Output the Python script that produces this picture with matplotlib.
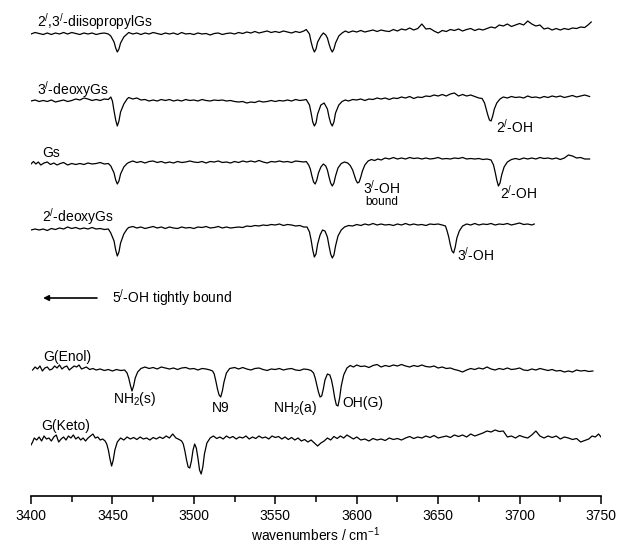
import matplotlib
matplotlib.use("Agg")
import matplotlib.pyplot as plt
from matplotlib.ticker import MultipleLocator

plt.rcParams['font.family'] = ['Liberation Sans', 'DejaVu Sans']
plt.rcParams['mathtext.fontset'] = 'custom'
plt.rcParams['mathtext.rm'] = 'Liberation Sans'
plt.rcParams['mathtext.it'] = 'Liberation Sans'
plt.rcParams['mathtext.default'] = 'regular'

# ---------- data: (wavenumber, signal relative to the trace baseline) ----------
diiso = [(3400,0),(3402.5,1.5),(3405,0.5),(3407.5,-0.5),(3410,1),(3412.5,-0.5),(3415,1),(3417.5,0),
 (3420,1.5),(3422.5,0),(3425,1.5),(3427.5,0.5),(3430,-0.5),(3432.5,1),(3435,0),(3437.5,1),(3440,-0.5),
 (3442.5,0.5),(3445,1),(3447.5,0),
 (3449,-2),(3451,-8),(3452,-14),(3453,-18),(3454,-15),(3455,-9),(3457,-3),(3459,0),
 (3460,1.5),(3462.5,0),(3465,1),(3467.5,-0.5),(3470,1),(3472.5,0),(3475,1.5),(3477.5,0.5),(3480,-0.5),
 (3482.5,1),(3485,0),(3487.5,1),(3490,-0.5),(3492.5,1.5),(3495,0),(3497.5,0.5),(3500,-0.5),(3502.5,1),
 (3505,0),(3507.5,0.5),(3510,-1),(3512.5,0.5),(3515,1),(3517.5,-0.5),(3520,0.5),(3522.5,1),(3525,0),
 (3527.5,1.5),(3530,0.5),(3532.5,2),(3535,1),(3537.5,2.5),(3540,1),(3542.5,2),(3545,3),(3547.5,1.5),
 (3550,2.5),(3552.5,1.5),(3555,3),(3557.5,2),(3560,1),(3562.5,2.5),(3565,1.5),(3567.5,3),(3569,4.5),
 (3571,0),(3572,-8),(3573,-14),(3574,-18),(3575,-15),(3576,-8),(3578,-2),(3579.5,1),(3581,-1),
 (3582,-4),(3583,-10),(3584,-15),(3585,-18),(3586,-15),(3587,-9),(3589,-2),
 (3591,1),(3593,3),(3595,1.5),(3597.5,3),(3600,2),(3602.5,3.5),(3605,2),(3607.5,3),(3610,4),(3612.5,2.5),
 (3615,4),(3617.5,3),(3620,2.5),(3622.5,4.5),(3625,3),(3627.5,5),(3630,4),(3632.5,6),(3635,4),(3637.5,5.5),
 (3640,10),(3642.5,5),(3645,5.5),(3647.5,3),(3650,1),(3652.5,3.5),(3655,2.5),(3657.5,4.5),(3660,3.5),
 (3662.5,5),(3665,3),(3667.5,4.5),(3670,5.5),(3672.5,3.5),(3675,5),(3677.5,4),(3680,5.5),(3682.5,7),
 (3685,6),(3687.5,9),(3690,8),(3692.5,10),(3695,7.5),(3697.5,9),(3700,10.5),(3702.5,9),(3705,13),
 (3707.5,10),(3710,8),(3712.5,9),(3715,5),(3717.5,6),(3720,4),(3722.5,5.5),(3725,4),(3727.5,5.5),
 (3730,4.5),(3732.5,6),(3735,5.5),(3737.5,7),(3740,6.5),(3742,9),(3744,12)]

deoxy3 = [(3400,0),(3402.5,1),(3405,-0.5),(3407.5,0.5),(3410,-0.5),(3412.5,1),(3415,-1),(3417.5,0),
 (3420,1),(3422.5,-0.5),(3425,0.5),(3427.5,2),(3430,1),(3432.5,3),(3435,2),(3437.5,0.5),(3440,1.5),
 (3442.5,0.5),(3445,2),(3447.5,1.5),(3449,4),
 (3450,0),(3451,-10),(3452,-19),(3453,-25),(3454,-20),(3455,-11),(3457,-3),(3459,2),
 (3460,3.5),(3462.5,2),(3465,3),(3467.5,1),(3470,1.5),(3472.5,0),(3475,1),(3477.5,0),(3480,1.5),
 (3482.5,0.5),(3485,1.5),(3487.5,0),(3490,1),(3492.5,0),(3495,1.5),(3497.5,0.5),(3500,1),(3502.5,0),
 (3505,1.5),(3507.5,0.5),(3510,0),(3512.5,1),(3515,0.5),(3517.5,1),(3520,0),(3522.5,0.5),(3525,-0.5),
 (3527.5,-1),(3530,-0.5),(3532.5,-2),(3535,-1),(3537.5,-1.5),(3540,0),(3542.5,-1),(3545,-0.5),
 (3547.5,0.5),(3550,-0.5),(3552.5,0.5),(3555,0),(3557.5,1),(3560,0),(3562.5,1.5),(3565,0.5),
 (3567.5,1),(3569,1.5),
 (3571,-4),(3572,-12),(3573,-21),(3574,-25),(3575,-22),(3576,-13),(3578,-4),(3580,-2),(3582,-8),
 (3583,-16),(3584,-22),(3585,-25),(3586,-21),(3587,-12),(3589,-4),
 (3591,-0.5),(3593,1),(3595,0),(3597.5,1.5),(3600,1),(3602.5,2),(3605,0.5),(3607.5,2),(3610,1.5),
 (3612.5,3),(3615,2),(3617.5,3),(3620,1.5),(3622.5,3),(3625,2.5),(3627.5,4),(3630,3),(3632.5,4.5),
 (3635,2.5),(3637.5,4),(3640,3.5),(3642.5,5),(3645,4.5),(3647.5,6),(3650,5),(3652.5,6.5),(3655,5),
 (3657.5,7),(3660,8),(3662.5,5),(3665,6.5),(3667.5,5),(3670,6),(3672.5,4.5),(3675,3),(3677,2.5),
 (3678.5,-2),(3679.5,-8),(3680.5,-14),(3681.5,-19),(3682.5,-20),(3683.5,-15),(3684.5,-8),(3686,-2),
 (3688,2),(3690,4),(3692.5,3),(3695,4.5),(3697.5,3.5),(3700,4),(3702.5,3),(3705,5),(3707.5,3.5),
 (3710,4),(3712.5,3),(3715,4.5),(3717.5,3.5),(3720,5),(3722.5,4),(3725,5),(3727.5,3.5),(3730,4.5),
 (3732.5,5.5),(3735,4),(3737.5,5),(3740,6),(3743,4.5)]

gs = [(3400,0),(3401.5,2.5),(3403,0),(3404.5,2),(3406,-1),(3408,1),(3410,2),(3412,-0.5),(3414,1),
 (3416,-1),(3418,0.5),(3420,1.5),(3422.5,-1),(3425,0.5),(3427.5,-0.5),(3430,0.5),(3432.5,-0.5),
 (3435,1),(3437.5,0),(3440,0.5),(3442.5,1.5),(3445,0),(3447.5,0.5),
 (3449,-2),(3451,-9),(3452,-16),(3453,-20),(3454,-17),(3455,-10),(3457,-3),(3459,0.5),
 (3460,1.5),(3462.5,3),(3465,1.5),(3467.5,2.5),(3470,1),(3472.5,2.5),(3475,3),(3477.5,1.5),(3480,2.5),
 (3482.5,1),(3485,2),(3487.5,1),(3490,2.5),(3492.5,1.5),(3495,2),(3497.5,3),(3500,2),(3502.5,1.5),
 (3505,2.5),(3507.5,1),(3510,2.5),(3512.5,2),(3515,3),(3517.5,1.5),(3520,2),(3522.5,1),(3525,2.5),
 (3527.5,1.5),(3530,3),(3532.5,2),(3535,3),(3537.5,2),(3540,3.5),(3542.5,2),(3545,1),(3547.5,2.5),
 (3550,2),(3552.5,3),(3555,2),(3557.5,2.5),(3560,1.5),(3562.5,3),(3565,2.5),(3567.5,2),(3569,2.5),
 (3570.5,-1),(3571.5,-5),(3572.5,-12),(3573.5,-18),(3574.5,-20),(3575.5,-16),(3576.5,-9),(3578,-3),
 (3579.5,0),(3581,-2),(3582,-6),(3583,-13),(3584,-19),(3585,-22),(3586,-19),(3587,-12),(3588.5,-4),
 (3590.5,0.5),(3592.5,2),(3594.5,1),(3596,-1.5),(3597.5,-6),(3598.5,-11),(3599.5,-16),(3600.5,-19),
 (3601.5,-18),(3602.5,-13),(3603.5,-7),(3605,-1),(3607,3),
 (3609,4.5),(3611,3.5),(3613,5),(3615,4),(3617.5,6),(3620,5),(3622.5,6.5),(3625,5),(3627.5,6),
 (3630,5),(3632.5,6.5),(3635,5.5),(3637.5,6),(3640,5),(3642.5,6),(3645,5),(3647.5,5.5),(3650,6.5),
 (3652.5,5),(3655,5.5),(3657.5,5),(3660,6),(3662.5,5.5),(3665,6.5),(3667.5,5),(3670,5.5),(3672.5,5),
 (3675,5.5),(3677.5,4.5),(3680,5),(3682.5,4),
 (3684,-1),(3685,-8),(3686,-16),(3687,-22),(3688,-19),(3689,-11),(3690.5,-3),(3692.5,2),
 (3695,4.5),(3697.5,5.5),(3700,4.5),(3702.5,6),(3705,5),(3707.5,6),(3710,5),(3712.5,6.5),(3715,5.5),
 (3717.5,6),(3720,5),(3722.5,6),(3725,4.5),(3727.5,6),(3730,9),(3732.5,8),(3735,6),(3737.5,6.5),
 (3740,5),(3743,5)]

deoxy2 = [(3400,0),(3402.5,1),(3405,0),(3407.5,1),(3410,-0.5),(3412.5,1.5),(3415,0.5),(3417.5,2),
 (3420,1),(3422.5,3),(3425,1.5),(3427.5,2.5),(3430,1),(3432.5,2),(3435,1),(3437.5,2.5),(3440,1),
 (3442.5,1.5),(3445,0.5),(3447.5,1),
 (3449,-3),(3451,-11),(3452,-20),(3453,-26),(3454,-22),(3455,-13),(3457,-4),(3459,1),
 (3460,2.5),(3462.5,3.5),(3465,2),(3467.5,3),(3470,1.5),(3472.5,2.5),(3475,3.5),(3477.5,2),(3480,3),
 (3482.5,1.5),(3485,3),(3487.5,2),(3490,1.5),(3492.5,3),(3495,2),(3497.5,2.5),(3500,1.5),(3502.5,3),
 (3505,2.5),(3507.5,3.5),(3510,2),(3512.5,2.5),(3515,3.5),(3517.5,2),(3520,3),(3522.5,2),(3525,2.5),
 (3527.5,3),(3530,2.5),(3532.5,4),(3535,3.5),(3537.5,4.5),(3540,4),(3542.5,5),(3545,4.5),(3547.5,5.5),
 (3550,5),(3552.5,6),(3555,4.5),(3557.5,5.5),(3560,5),(3562.5,4),(3565,4.5),(3567.5,3),(3569.5,3),
 (3571,-2),(3572,-10),(3573,-20),(3574,-27),(3575,-24),(3576,-14),(3577.5,-5),(3579,0),(3580.5,-1),
 (3582,-7),(3583,-16),(3584,-24),(3585,-28),(3586,-25),(3587,-16),(3588.5,-6),(3590.5,0),
 (3592.5,3),(3595,4.5),(3597.5,4),(3600,5.5),(3602.5,4.5),(3605,6),(3607.5,5),(3610,6.5),(3612.5,5),
 (3615,6),(3617.5,5),(3620,5.5),(3622.5,4.5),(3625,6),(3627.5,5),(3630,6.5),(3632.5,5),(3635,6),
 (3637.5,5),(3640,5.5),(3642.5,4.5),(3645,6),(3647.5,5.5),(3650,6),(3652.5,5),(3654.5,4),
 (3655.5,-1),(3656.5,-7),(3657.5,-15),(3658.5,-21),(3659.5,-23),(3660.5,-17),(3661.5,-8),(3663,-1),
 (3665,4),(3667.5,6),(3670,5),(3672.5,6.5),(3675,5),(3677.5,6),(3680,5.5),(3682.5,6.5),(3685,5),
 (3687.5,6),(3690,5.5),(3692.5,6.5),(3695,5),(3697.5,6),(3700,7),(3702.5,5.5),(3705,6),(3707.5,5),
 (3709,6)]

enol = [(3401,0),(3402.5,3),(3404,1),(3405.5,4),(3407,-1),(3408.5,2),(3410,3),(3411.5,0),(3413,1),
 (3414.5,4),(3416,2),(3417.5,5),(3419,1),(3420.5,3),(3422,4),(3423.5,0),(3425,2),(3426.5,4),(3428,3),
 (3429.5,5),(3431,1),(3432.5,2),(3434,3),(3436,0.5),(3438,1.5),(3440,0),(3442.5,1),(3445,-0.5),
 (3447.5,0.5),(3450,-1),(3452.5,0.5),(3455,-0.5),(3457.5,0),
 (3459,-3),(3460,-8),(3461,-15),(3462,-21),(3463,-16),(3464,-8),(3465.5,-2),(3467.5,1.5),
 (3470,3),(3472.5,1.5),(3475,2.5),(3477.5,1),(3480,3),(3482.5,2),(3485,1),(3487.5,2),(3490,0.5),
 (3492.5,2),(3495,2.5),(3497.5,1),(3500,1.5),(3502.5,0),(3505,1.5),(3507.5,1),(3510,0),(3511.5,-1),
 (3512.5,-4),(3513.5,-11),(3514.5,-19),(3515.5,-25),(3516.5,-27),(3517.5,-21),(3518.5,-12),(3520,-3),
 (3522,1.5),(3525,2.5),(3527.5,1),(3530,2.5),(3532.5,1),(3535,0),(3537.5,1.5),(3540,2),(3542.5,0.5),
 (3545,-0.5),(3547.5,1),(3550,0.5),(3552.5,1.5),(3555,0),(3557.5,1),(3560,1.5),(3562.5,0),(3565,-0.5),
 (3567.5,1),(3570,0.5),(3572,-0.5),
 (3573.5,-3),(3574.5,-8),(3575.5,-15),(3576.5,-22),(3577.5,-27),(3578.5,-26),(3579.5,-19),(3580.5,-10),
 (3582,-4),(3583.5,-5),(3584.5,-10),(3585.5,-18),(3586.5,-28),(3587.5,-35),(3588.5,-36),(3589.5,-28),
 (3590.5,-16),(3592,-5),(3594,2),
 (3596,4.5),(3598,3),(3600,5),(3602.5,3.5),(3605,4),(3607.5,2.5),(3610,4.5),(3612.5,5.5),(3615,3),
 (3617.5,4.5),(3620,3.5),(3622.5,5),(3625,4),(3627.5,5.5),(3630,4),(3632.5,3),(3635,4.5),(3637.5,3.5),
 (3640,5),(3642.5,3.5),(3645,3),(3647.5,4),(3650,2),(3652.5,3),(3655,1.5),(3657.5,2),(3660,0.5),
 (3662.5,-0.5),(3665,-2),(3667.5,0),(3670,1.5),(3672.5,0.5),(3675,2),(3677.5,1),(3680,3),(3682.5,1),
 (3685,0),(3687.5,1.5),(3690,0.5),(3692.5,2),(3695,0.5),(3697.5,1),(3700,2),(3702.5,0),(3705,-0.5),
 (3707.5,1),(3710,0),(3712.5,1.5),(3715,0.5),(3717.5,-0.5),(3720,0.5),(3722.5,-1),(3725,-0.5),
 (3727.5,-2),(3730,-1),(3732.5,-2),(3735,0),(3737.5,-1),(3740,-0.5),(3742.5,-1.5),(3745,-1)]

keto = [(3400,-5),(3401,-2),(3402,2),(3403.5,0),(3405,3),(3406.5,-1),(3408,4),(3409.5,1),(3411,2),
 (3412.5,-1),(3414,3),(3415.5,5),(3417,-2),(3418.5,1),(3420,3),(3421.5,0),(3423,4),(3424.5,2),(3426,5),
 (3427.5,1),(3429,3),(3430.5,0),(3432,2),(3433.5,-1),(3435,2),(3436.5,4),(3438,6),(3439.5,2),(3441,3),
 (3442.5,0),(3444,1),(3445.5,-1),
 (3446.5,-4),(3447.5,-10),(3448.5,-19),(3449.5,-26),(3450.5,-20),(3451.5,-10),(3453,-2),(3455,2),
 (3457,0),(3459,3),(3461,1),(3463,2.5),(3465,0.5),(3467,3),(3469,1),(3471,2),(3473,0),(3475,2.5),
 (3477,1),(3479,3),(3481,1.5),(3483,4),(3485,2),(3487,6),(3489,2),(3491,0.5),(3492.5,-1),
 (3493.5,-4),(3494.5,-11),(3495.5,-20),(3496.5,-27),(3497.5,-28),(3498.5,-21),(3499.5,-10),(3500.5,-4),
 (3501.5,-8),(3502.5,-18),(3503.5,-30),(3504.5,-34),(3505.5,-27),(3506.5,-14),(3508,-3),(3510,2),
 (3512,4),(3514,1.5),(3516,3),(3518,1),(3520,4),(3522,2),(3524,3.5),(3526,1),(3528,3),(3530,2),
 (3532,4),(3534,1),(3536,3),(3538,1.5),(3540,4),(3542,2),(3544,3),(3546,1),(3548,4),(3550,2.5),
 (3552,3.5),(3554,1),(3556,3),(3558,0.5),(3560,2.5),(3562,0),(3564,2),(3566,-1),(3568,0.5),(3570,-2),
 (3572,0),(3574,-3),(3576,-6),(3578,-3),(3580,-1),(3582,2),(3584,0),(3586,3.5),(3588,1.5),(3590,4),
 (3592,2),(3594,5),(3596,3),(3598,1),(3600,3),(3602.5,0),(3605,1),(3607.5,-1),(3610,1.5),(3612.5,0),
 (3615,1),(3617.5,-0.5),(3620,2),(3622.5,0.5),(3625,1.5),(3627.5,0),(3630,2),(3632.5,3.5),(3635,1.5),
 (3637.5,3),(3640,2),(3642.5,4),(3645,2.5),(3647.5,4.5),(3650,2),(3652.5,3),(3655,4),(3657.5,2.5),
 (3660,5),(3662.5,3.5),(3665,5),(3667.5,3),(3670,6),(3672.5,4),(3675,5.5),(3677.5,7),(3680,9),
 (3682.5,8),(3685,10),(3687.5,8.5),(3690,9),(3692.5,3),(3695,4),(3697.5,2),(3700,4.5),(3702.5,3),
 (3705,2),(3707.5,5),(3710,9),(3712.5,4),(3715,2),(3717.5,4),(3720,2.5),(3722.5,4),(3725,1),
 (3727.5,3),(3730,2),(3732.5,0.5),(3735,1.5),(3737.5,-2),(3740,-0.5),(3742.5,1),(3744.5,4),
 (3746.5,3),(3748.5,6),(3750,3)]

# vertical offsets of the stacked traces (layout)
traces = [(diiso, 462), (deoxy3, 395), (gs, 332), (deoxy2, 266), (enol, 126), (keto, 56)]

xticks = [3400, 3450, 3500, 3550, 3600, 3650, 3700, 3750]

# ---------------- figure ----------------
fig = plt.figure(figsize=(6.21, 5.48), dpi=100)
ax = fig.add_axes([31/621, 52/548, 570/621, 496/548])

for pts, off in traces:
    xs = [p[0] for p in pts]
    ys = [p[1] + off for p in pts]
    ax.plot(xs, ys, color='black', lw=0.9)

ax.set_xlim(3400, 3750)
ax.set_ylim(0, 496)
for s in ['top', 'left', 'right']:
    ax.spines[s].set_visible(False)
ax.spines['bottom'].set_linewidth(1.2)
ax.set_yticks([])
ax.set_xticks(xticks)
ax.xaxis.set_minor_locator(MultipleLocator(25))
ax.tick_params(axis='x', which='major', direction='out', length=6, width=1.1, labelsize=10, pad=3)
ax.tick_params(axis='x', which='minor', direction='out', length=4, width=1.1)
ax.set_xlabel('wavenumbers / cm$^{-1}$', fontsize=10, labelpad=2)

fs = 10
P = '$^{/}$'
ax.text(3403.7, 474, '2' + P + ',3' + P + '-diisopropylGs', fontsize=fs, va='center', ha='left')
ax.text(3403.7, 406, '3' + P + '-deoxyGs', fontsize=fs, va='center', ha='left')
ax.text(3406.7, 343, 'Gs', fontsize=fs, va='center', ha='left')
ax.text(3406.7, 279, '2' + P + '-deoxyGs', fontsize=fs, va='center', ha='left')
ax.text(3407.4, 139, 'G(Enol)', fontsize=fs, va='center', ha='left')
ax.text(3406.1, 70, 'G(Keto)', fontsize=fs, va='center', ha='left')

ax.text(3685.5, 369, '2' + P + '-OH', fontsize=fs, va='center', ha='left')
ax.text(3603.8, 308, '3' + P + '-OH', fontsize=fs, va='center', ha='left')
ax.text(3605.0, 294, 'bound', fontsize=8.5, va='center', ha='left')
ax.text(3688.0, 303, '2' + P + '-OH', fontsize=fs, va='center', ha='left')
ax.text(3661.5, 241, '3' + P + '-OH', fontsize=fs, va='center', ha='left')

ax.annotate('', xy=(3407.4, 198), xytext=(3440.5, 198),
            arrowprops=dict(arrowstyle='-|>', color='black', lw=1.2,
                            mutation_scale=8, shrinkA=0, shrinkB=0))
ax.text(3449.7, 198, '5' + P + '-OH tightly bound', fontsize=fs, va='center', ha='left')

ax.text(3450.3, 97, 'NH$_2$(s)', fontsize=fs, va='center', ha='left')
ax.text(3511.0, 88, 'N9', fontsize=fs, va='center', ha='left')
ax.text(3548.6, 88, 'NH$_2$(a)', fontsize=fs, va='center', ha='left')
ax.text(3591.5, 93, 'OH(G)', fontsize=fs, va='center', ha='left')

fig.savefig('out.png', dpi=100)
